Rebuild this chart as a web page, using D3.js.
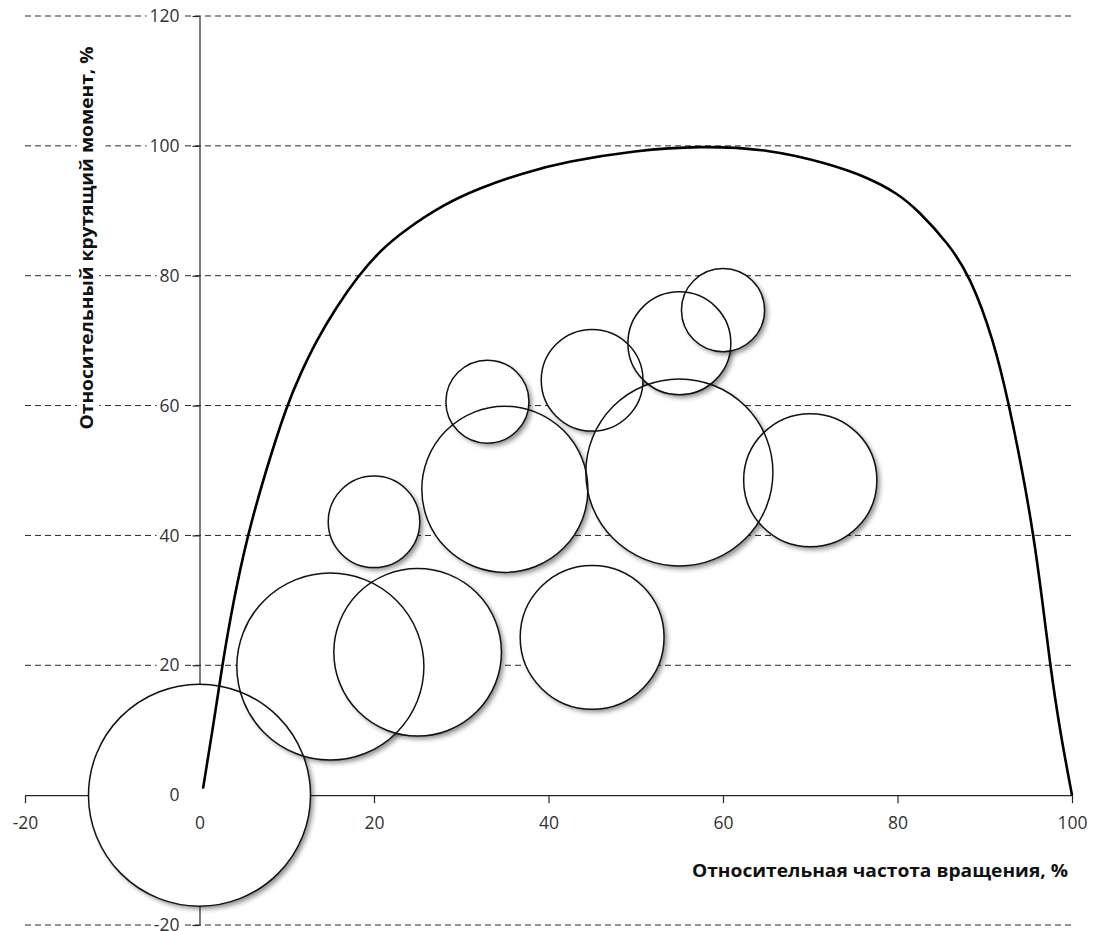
<!DOCTYPE html>
<html>
<head>
<meta charset="utf-8">
<script src="https://cdn.jsdelivr.net/npm/d3@7"></script>
<style>
  html, body { margin: 0; padding: 0; background: #fff; }
  svg { display: block; }
</style>
</head>
<body>
<script>
// Torque / speed operating points (bubble = share of operating time)
const speedPct  = [0, 15, 25, 20, 35, 33, 45, 45, 55, 55, 60, 70];
const torquePct = [0, 19.8, 22, 42.1, 47.1, 60.6, 24.3, 63.9, 49.7, 69.6, 74.7, 48.5];
const timeShare = [100, 71, 57, 17, 56, 14, 42, 21, 71, 21.5, 14, 36];

// Full-load torque curve
const curveSpeed  = [0.4, 1.5, 2.6, 3.9, 5.5, 7.6, 10.0, 11.6, 13.4, 15.6, 18.2, 20.8, 23.5, 28, 32.1, 37, 42.1, 50, 57.3, 65.3, 72, 76.5, 80, 82.4, 85.8, 88.3, 91.05, 92.8, 94.3, 95.6, 96.6, 97.5, 98.6, 100];
const curveTorque = [1, 10, 20, 30, 40, 50, 60, 65, 70, 75, 80, 84, 87, 91, 93.5, 95.8, 97.6, 99.3, 100, 99.5, 97.3, 95.2, 92.7, 90, 85, 80, 70, 60, 50, 40, 30, 20, 10, 0];

const xTicks = [-20, 0, 20, 40, 60, 80, 100];
const yTicks = [-20, 0, 20, 40, 60, 80, 100, 120];
const xTitle = "Относительная частота вращения, %";
const yTitle = "Относительный крутящий момент, %";

const W = 1098, H = 931;
const x = d3.scaleLinear().domain([-20, 100]).range([25, 1072]);
const y = d3.scaleLinear().domain([-20, 120]).range([925, 16]);
const r = d3.scaleSqrt().domain([0, 100]).range([0, 111]);

const svg = d3.select("body").append("svg")
  .attr("width", W).attr("height", H);

const defs = svg.append("defs");
const f = defs.append("filter").attr("id", "shadow")
  .attr("x", "-20%").attr("y", "-20%").attr("width", "150%").attr("height", "150%");
f.append("feDropShadow")
  .attr("dx", 3).attr("dy", 3).attr("stdDeviation", 2.5)
  .attr("flood-color", "#000").attr("flood-opacity", 0.45);

const FONT = "'Open Sans', 'Noto Sans', 'DejaVu Sans', sans-serif";
const ink = "#262626";
const fmt = d => String(d);   // plain hyphen-minus for negatives

// Dashed horizontal gridlines
svg.append("g").selectAll("line")
  .data(yTicks.filter(v => v !== 0))
  .join("line")
  .attr("x1", x(-20)).attr("x2", x(100))
  .attr("y1", d => y(d)).attr("y2", d => y(d))
  .attr("stroke", ink).attr("stroke-width", 1)
  .attr("stroke-dasharray", "6,4");

// Axis lines and tick marks
const xAxisLines = svg.append("g")
  .attr("transform", `translate(0,${y(0)})`)
  .call(d3.axisBottom(x).tickValues(xTicks).tickSize(8).tickSizeOuter(0).tickFormat(""));
const yAxisLines = svg.append("g")
  .attr("transform", `translate(${x(0)},0)`)
  .call(d3.axisLeft(y).tickValues(yTicks).tickSize(7).tickSizeOuter(0).tickFormat(""));
[xAxisLines, yAxisLines].forEach(g => {
  g.selectAll("path, line").attr("stroke", ink).attr("stroke-width", 1.2);
});

// Bubbles: white bodies with soft shadow, then outlines on top
const pts = speedPct.map((s, i) => ({ s, t: torquePct[i], z: timeShare[i] }));
svg.append("g").selectAll("circle")
  .data(pts).join("circle")
  .attr("cx", d => x(d.s)).attr("cy", d => y(d.t)).attr("r", d => r(d.z))
  .attr("fill", "#fff").attr("filter", "url(#shadow)");
svg.append("g").selectAll("circle")
  .data(pts).join("circle")
  .attr("cx", d => x(d.s)).attr("cy", d => y(d.t)).attr("r", d => r(d.z))
  .attr("fill", "none").attr("stroke", "#111").attr("stroke-width", 1.5);

// Full-load torque curve
const line = d3.line()
  .x((d, i) => x(curveSpeed[i]))
  .y(d => y(d))
  .curve(d3.curveBasis);
svg.append("path")
  .datum(curveTorque)
  .attr("d", line)
  .attr("fill", "none").attr("stroke", "#000").attr("stroke-width", 2.6)
  .attr("stroke-linejoin", "round");

// Tick labels, each on a small white backing so the dashes stop short of it
function styleLabels(g) {
  g.select(".domain").remove();
  g.selectAll("line").remove();
  g.selectAll("text")
    .attr("font-family", FONT).attr("font-size", 17.5)
    .attr("fill", "#333");
  g.selectAll(".tick").each(function () {
    const t = d3.select(this).select("text");
    const b = t.node().getBBox();
    d3.select(this).insert("rect", "text")
      .attr("x", b.x - 3).attr("y", b.y + 2)
      .attr("width", b.width + 6).attr("height", b.height - 4)
      .attr("fill", "#fff");
  });
}
svg.append("g")
  .attr("transform", `translate(0,${y(0)})`)
  .call(d3.axisBottom(x).tickValues(xTicks).tickSize(0).tickPadding(21).tickFormat(fmt))
  .call(styleLabels);
svg.append("g")
  .attr("transform", `translate(${x(0)},0)`)
  .call(d3.axisLeft(y).tickValues(yTicks).tickSize(0).tickPadding(20).tickFormat(fmt))
  .call(styleLabels);

// Axis titles
svg.append("text")
  .attr("x", 1068).attr("y", 877)
  .attr("text-anchor", "end")
  .attr("font-family", FONT).attr("font-weight", "bold").attr("font-size", 18.5)
  .attr("textLength", 376).attr("lengthAdjust", "spacingAndGlyphs")
  .attr("fill", "#111")
  .text(xTitle);

svg.append("text")
  .attr("transform", "translate(93,238) rotate(-90)")
  .attr("text-anchor", "middle")
  .attr("font-family", FONT).attr("font-weight", "bold").attr("font-size", 18.5)
  .attr("textLength", 383).attr("lengthAdjust", "spacingAndGlyphs")
  .attr("fill", "#111")
  .attr("stroke", "#fff").attr("stroke-width", 12).attr("paint-order", "stroke")
  .text(yTitle);
</script>
</body>
</html>
